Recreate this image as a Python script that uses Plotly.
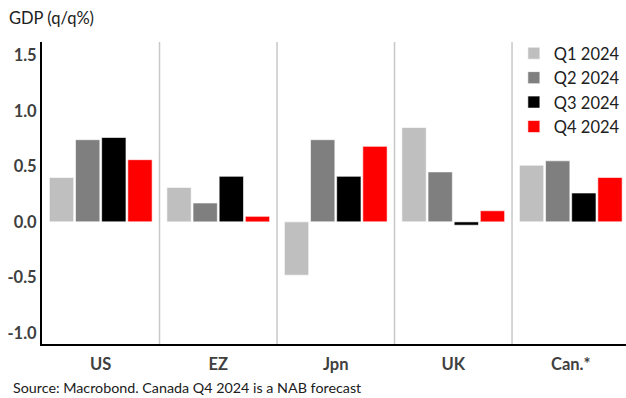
import plotly.graph_objects as go

categories = ["US", "EZ", "Jpn", "UK", "Can.*"]
series_names = ["Q1 2024", "Q2 2024", "Q3 2024", "Q4 2024"]
q1 = [0.40, 0.31, -0.48, 0.85, 0.51]
q2 = [0.74, 0.17, 0.74, 0.45, 0.55]
q3 = [0.76, 0.41, 0.41, -0.03, 0.26]
q4 = [0.56, 0.05, 0.68, 0.10, 0.40]
colors = ["#bfbfbf", "#7f7f7f", "#000000", "#ff0000"]
y_ticks = [-1.0, -0.5, 0.0, 0.5, 1.0, 1.5]

FONT = "Lato"
fig = go.Figure()
for name, vals, c in zip(series_names, [q1, q2, q3, q4], colors):
    fig.add_trace(go.Bar(
        x=list(range(len(categories))), y=vals, name=name,
        marker=dict(color=c, line=dict(color="rgba(255,255,255,0.6)", width=1)),
    ))

for i in range(len(categories) - 1):
    fig.add_shape(type="line", xref="x", yref="paper", x0=i + 0.5, x1=i + 0.5,
                  y0=0, y1=1, line=dict(color="#c8c8c8", width=1.5), layer="below")

fig.update_layout(
    width=626, height=398,
    margin=dict(l=42, r=0, t=42, b=54, autoexpand=False),
    plot_bgcolor="white", paper_bgcolor="white",
    barmode="group", bargap=0.11, bargroupgap=0.07,
    font=dict(family=FONT, color="#404040"),
    showlegend=True,
    legend=dict(x=0.808, y=1.02, xanchor="left", yanchor="top",
                bgcolor="rgba(255,255,255,0)", font=dict(size=16.5, color="#202020"),
                tracegroupgap=0, itemwidth=30),
    xaxis=dict(
        tickmode="array", tickvals=list(range(len(categories))), ticktext=categories,
        range=[-0.5, 4.47], showline=True, linecolor="black", linewidth=2,
        ticks="", showgrid=False, zeroline=False, ticklabelstandoff=4,
        tickfont=dict(size=16.5, color="#404040", weight="bold"),
    ),
    yaxis=dict(
        range=[-1.1, 1.62], tickvals=y_ticks,
        ticktext=[f"{v:.1f}" for v in y_ticks],
        showline=True, linecolor="black", linewidth=2,
        showgrid=False, zeroline=False, ticks="",
        tickfont=dict(size=16.5, color="#404040", weight="bold"),
    ),
    annotations=[
        dict(text="GDP (q/q%)", xref="paper", yref="paper", x=0, y=1,
             xanchor="left", yanchor="bottom", showarrow=False,
             font=dict(size=16.5, color="#202020"), xshift=-35, yshift=12),
        dict(text="Source: Macrobond. Canada Q4 2024 is a NAB forecast", xref="paper", yref="paper",
             x=0, y=0, xanchor="left", yanchor="top", showarrow=False,
             font=dict(size=14.3, color="#202020"), xshift=-31, yshift=-33),
    ],
)

fig.write_html("out.html")
